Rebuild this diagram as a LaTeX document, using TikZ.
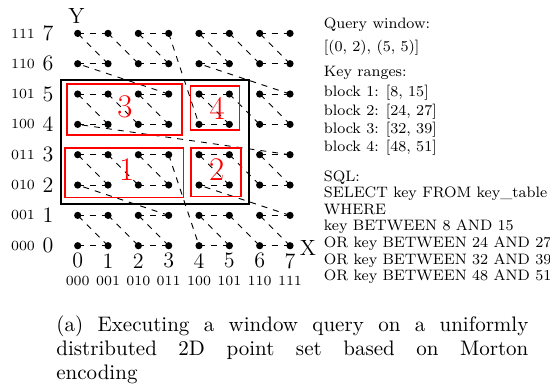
\documentclass[tikz,border=0pt]{standalone}
\usepackage{fontspec}
\usepackage{graphicx}
\newcommand{\infotext}[1]{\scalebox{0.945}{\fontsize{8}{9}\selectfont #1}}
\begin{document}
\begin{tikzpicture}[x=0.5pt,y=-0.5pt,
  dot/.style={circle,fill=black,inner sep=0pt,minimum size=3.6pt},
  zcurve/.style={dashed,line width=0.45pt},
  axnum/.style={font=\fontsize{11}{13}\selectfont,inner sep=0pt},
  bincode/.style={font=\fontsize{7}{8}\selectfont,inner sep=0pt},
  blocknum/.style={font=\fontsize{16.5}{19}\selectfont,text=red,inner sep=0pt},
  blockbox/.style={draw=red,line width=0.8pt},
  winbox/.style={draw=black,line width=1pt},
  info/.style={inner sep=0pt,anchor=base west},
]
\useasboundingbox (0,0) rectangle (550,389);
% grid point positions
\foreach \i in {0,...,7}
  \foreach \j in {0,...,7}
    \coordinate (c-\i-\j) at ({77.7+30.33*\i},{245.7-30.33*\j});
% Morton (Z-order) curve
\foreach \k [remember=\k as \lastk (initially 0)] in {1,...,63} {
  \pgfmathtruncatemacro\ax{mod(\lastk,2)+2*mod(floor(\lastk/4),2)+4*mod(floor(\lastk/16),2)}
  \pgfmathtruncatemacro\ay{mod(floor(\lastk/2),2)+2*mod(floor(\lastk/8),2)+4*mod(floor(\lastk/32),2)}
  \pgfmathtruncatemacro\bx{mod(\k,2)+2*mod(floor(\k/4),2)+4*mod(floor(\k/16),2)}
  \pgfmathtruncatemacro\by{mod(floor(\k/2),2)+2*mod(floor(\k/8),2)+4*mod(floor(\k/32),2)}
  \draw[zcurve] (c-\ax-\ay) -- (c-\bx-\by);
}
% grid points
\foreach \i in {0,...,7}
  \foreach \j in {0,...,7}
    \node[dot] (p-\i-\j) at (c-\i-\j) {};
% axis labels
\foreach \v/\b in {0/000,1/001,2/010,3/011,4/100,5/101,6/110,7/111} {
  \node[axnum] (ly-\v) at (48,{245.7-30.33*\v}) {\v};
  \node[bincode] (lb-\v) at (23,{245.7-30.33*\v}) {\b};
  \node[axnum] (lx-\v) at ({77.7+30.33*\v},260.8) {\v};
  \node[bincode] (bx-\v) at ({77.7+30.33*\v},280.5) {\b};
}
\node[axnum] (Y) at (76.5,15.8) {Y};
\node[axnum] (X) at (308,248) {X};
% query window and blocks
\draw[winbox] (60.5,80) rectangle (249.3,204.3);
\draw[blockbox] (66.7,84.3) rectangle (181.7,135);
\draw[blockbox] (190.5,86) rectangle (239.3,130);
\draw[blockbox] (65,148.3) rectangle (183.3,197.7);
\draw[blockbox] (191,148.3) rectangle (240.7,196.7);
\node[blocknum] (n3) at (125,107.3) {3};
\node[blocknum] (n4) at (217.3,108.3) {4};
\node[blocknum] (n1) at (126.7,170) {1};
\node[blocknum] (n2) at (216.7,170) {2};
% info text
\node[info] (t1) at (323.5,28.5) {\infotext{Query window:}};
\node[info] (t2) at (323.5,51.7) {\infotext{[(0, 2), (5, 5)]}};
\node[info] (t3) at (323.5,77) {\infotext{Key ranges:}};
\node[info] (t4) at (323.5,97) {\infotext{block 1: [8, 15]}};
\node[info] (t5) at (323.5,115.5) {\infotext{block 2: [24, 27]}};
\node[info] (t6) at (323.5,134) {\infotext{block 3: [32, 39]}};
\node[info] (t7) at (323.5,152) {\infotext{block 4: [48, 51]}};
\node[info] (s1) at (323.5,181.5) {\infotext{SQL:}};
\node[info] (s2) at (323.5,198) {\infotext{SELECT key FROM key\_table}};
\node[info] (s3) at (323.5,214.5) {\infotext{WHERE}};
\node[info] (s4) at (323.5,231) {\infotext{key BETWEEN 8 AND 15}};
\node[info] (s5) at (323.5,247.5) {\infotext{OR key BETWEEN 24 AND 27}};
\node[info] (s6) at (323.5,264) {\infotext{OR key BETWEEN 32 AND 39}};
\node[info] (s7) at (323.5,280.5) {\infotext{OR key BETWEEN 48 AND 51}};
% caption
\node[anchor=north west,inner sep=0pt,text width=236pt,align=justify,
  font=\fontsize{10.5}{12}\selectfont] (cap) at (56,315)
  {(a) Executing a window query on a uniformly\linebreak
   distributed 2D point set based on Morton\linebreak encoding};
\end{tikzpicture}
\end{document}
